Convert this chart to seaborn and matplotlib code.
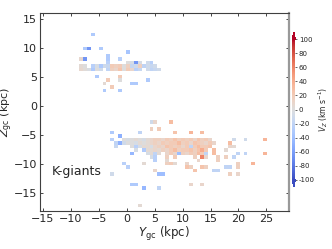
import numpy as np
import matplotlib
matplotlib.use("Agg")
import matplotlib.pyplot as plt
from matplotlib.ticker import FuncFormatter
import seaborn as sns

# ---- data: binned cells (Y_gc, Z_gc) with mean V_Z (km/s) ----
# upper (north) group
Y_north = [-6.05,
           -7.45, -6.75, -4.65,
           0.25,
           -3.25,
           -8.15, -7.45, -1.15, -3.25,
           -3.25, 1.65, 4.45, 0.25, 0.95, 3.75, 2.35,
           -8.15, -7.45, -6.05, -5.35, -4.65, -3.95, -3.25, -2.55, -1.85, -1.15, -0.45, 0.25, 0.95, 1.65, 2.35, 3.05, 3.75, 4.45, 5.15,
           -8.15, -7.45, -6.75, -6.05, -5.35, -4.65, -3.25, -2.55, -1.85, -1.15, -0.45, 0.25, 0.95, 1.65, 2.35, 3.75, 4.45, 5.15, 5.85,
           -5.35, -1.15,
           -3.25, -1.15, 3.75,
           -3.95, 0.95, 1.65,
           -2.55,
           -3.95, -1.15]
Z_north = [12.3,
           9.9, 9.9, 9.9,
           9.3,
           8.7,
           8.1, 8.1, 8.1, 8.1,
           7.5, 7.5, 7.5, 7.5, 7.5, 7.5, 7.5,
           6.9, 6.9, 6.9, 6.9, 6.9, 6.9, 6.9, 6.9, 6.9, 6.9, 6.9, 6.9, 6.9, 6.9, 6.9, 6.9, 6.9, 6.9, 6.9,
           6.3, 6.3, 6.3, 6.3, 6.3, 6.3, 6.3, 6.3, 6.3, 6.3, 6.3, 6.3, 6.3, 6.3, 6.3, 6.3, 6.3, 6.3, 6.3,
           5.1, 5.1,
           4.5, 4.5, 4.5,
           3.9, 3.9, 3.9,
           3.3,
           2.7, 2.7]
VZ_north = [-30,
            -30, -65, -30,
            -35,
            -30,
            8, -65, -25, -30,
            -25, -65, -25, 0, -5, -10, -5,
            5, 0, -25, -5, -30, -10, -15, 20, 15, 20, 0, 15, -15, -10, 15, -20, -10, -15, -10,
            8, 3, -3, -30, 0, -10, -20, 15, 10, 25, 0, 20, 10, -25, -15, -10, -20, -15, -10,
            -30, 20,
            20, 0, -30,
            5, -30, -30,
            20,
            -30, -30]

# lower (south) group
Y_south = [4.45, 5.15, 7.95,
           4.45, 5.85,
           -2.55, 2.35, 8.65, 11.45, 13.55,
           -1.15,
           -2.55, 19.45, 21.55, 24.75,
           -0.45, 0.25, 0.95, 1.65, 2.35, 3.05, 3.75, 4.45, 5.15, 5.85, 6.55, 7.25, 7.95, 8.65, 9.35, 10.05, 10.75, 11.45, 12.15, 12.85, 13.55, 14.25, 14.95,
           -1.85, -1.15, -0.45, 0.25, 0.95, 1.65, 2.35, 3.05, 3.75, 4.45, 5.15, 5.85, 6.55, 7.25, 7.95, 8.65, 9.35, 10.05, 10.75, 11.45, 12.15, 12.85, 13.55, 14.25, 14.95, 15.65, 18.45,
           -1.85, 0.95, 1.65, 2.35, 3.05, 3.75, 4.45, 5.15, 5.85, 6.55, 7.25, 7.95, 8.65, 9.35, 10.05, 10.75, 11.45, 12.15, 12.85, 13.55, 14.25, 14.95, 18.45, 19.15,
           1.65, 3.05, 3.75, 4.45, 5.15, 5.85, 6.55, 7.25, 7.95, 8.65, 9.35, 10.05, 10.75, 11.45, 12.15, 12.85, 13.55, 14.25, 15.65, 17.85,
           0.95, 3.75, 4.45, 5.15, 5.85, 7.25, 7.95, 8.65, 9.35, 10.05, 10.75, 11.45, 12.15, 12.85, 13.55, 14.25, 15.65, 19.85, 21.15, 24.75,
           4.45, 5.15, 7.25, 8.65, 12.15, 13.55, 14.25, 16.35, 17.85, 19.15,
           5.15, 7.25, 12.85, 16.35,
           -0.45, 3.05, 7.25, 7.95, 8.65, 10.75, 19.85, 22.45,
           0.25, 10.75, 11.45, 13.55, 14.25, 17.85, 18.55, 19.85,
           5.15, 12.15, 15.65, 16.35,
           -2.55, 5.85, 6.55, 18.45, 20.15,
           0.95, 1.65, 11.45, 13.55,
           3.05, 5.85,
           2.35]
Z_south = [-2.7, -2.7, -2.7,
           -3.9, -3.9,
           -4.5, -4.5, -4.5, -4.5, -4.5,
           -5.1,
           -5.7, -5.7, -5.7, -5.7,
           *([-5.7] * 23),
           *([-6.3] * 27),
           *([-6.9] * 24),
           *([-7.5] * 20),
           *([-8.1] * 20),
           *([-8.7] * 10),
           *([-9.3] * 4),
           *([-9.9] * 8),
           *([-10.5] * 8),
           *([-11.1] * 4),
           *([-11.7] * 5),
           *([-13.5] * 4),
           -14.1, -14.1,
           -17.1]
VZ_south = [-10, 10, 30,
            15, 20,
            -30, -20, 25, 35, 30,
            -50,
            -25, -10, -10, 35,
            0, -5, 0, 5, 0, -5, 5, 10, 15, 15, 10, 20, 15, 25, 15, 20, 15, 20, 10, 25, 15, 20, 10,
            -20, -50, -10, 0, 0, -5, 5, 0, 5, 10, 15, 10, 20, 15, 20, 20, 30, 15, 20, 10, 25, 20, 15, 10, 20, 10, 30,
            -15, 0, -25, -5, 5, 5, -5, 10, 15, 10, 25, 20, 15, 20, 10, 20, -20, 20, 30, 20, 20, 25, 10, 5,
            -5, -30, 5, 5, 10, 5, 15, 10, 20, 30, 15, 20, 20, 25, 15, 25, 40, 20, 30, 5,
            -45, -5, 5, -20, 5, 10, 20, 10, -40, 15, 10, 20, 15, 30, 20, -20, 30, -20, -20, 35,
            -5, -25, 15, 20, 15, 60, 10, 15, 15, -20,
            -25, 5, 10, 15,
            -25, 5, 15, 20, 5, 10, 15, 35,
            -25, 25, 15, 25, 15, -20, -20, 15,
            10, 25, -20, -20,
            -10, -40, -40, 15, 10,
            -30, -30, 10, 10,
            -45, -20,
            5]

label_text = "K-giants"
x_ticks = [-15, -10, -5, 0, 5, 10, 15, 20, 25]
y_ticks = [-15, -10, -5, 0, 5, 10, 15]
cbar_ticks = [-100, -80, -60, -40, -20, 0, 20, 40, 60, 80, 100]

# ---- build the binned grid ----
dx, dy = 0.7, 0.6
x0, x1 = -15.5, 29.0
y0, y1 = -18.0, 16.0
xedges = np.arange(x0, x1 + dx, dx)
yedges = np.arange(y0, y1 + dy, dy)
grid = np.full((len(yedges) - 1, len(xedges) - 1), np.nan)
Ys = np.array(Y_north + Y_south)
Zs = np.array(Z_north + Z_south)
Vs = np.array(VZ_north + VZ_south, dtype=float)
ix = np.floor((Ys - x0) / dx).astype(int)
iy = np.floor((Zs - y0) / dy).astype(int)
grid[iy, ix] = Vs

# ---- plot ----
sns.set_style("ticks")
plt.rcParams["font.family"] = ["DejaVu Sans"]

fig = plt.figure(figsize=(3.32, 2.49), dpi=100)
ax = fig.add_axes([0.120, 0.153, 0.750, 0.795])
mesh = ax.pcolormesh(xedges, yedges, np.ma.masked_invalid(grid),
                     cmap="coolwarm", vmin=-100, vmax=100,
                     edgecolors="face", linewidth=0.0)
ax.set_xlim(x0, x1)
ax.set_ylim(y0, y1)
ax.set_xticks(x_ticks)
ax.set_yticks(y_ticks)
ax.tick_params(direction="in", top=True, right=True, labelsize=8,
               length=2.5, width=0.6, pad=2)
for s in ["left", "bottom", "top"]:
    ax.spines[s].set_color("0.25")
    ax.spines[s].set_linewidth(0.8)
ax.spines["right"].set_color("0.6")
ax.spines["right"].set_linewidth(1.6)
ax.set_xlabel(r"$Y_{\rm gc}$ (kpc)", fontsize=8.5, labelpad=1)
ax.set_ylabel(r"$Z_{\rm gc}$ (kpc)", fontsize=8)
ax.yaxis.set_label_coords(-0.10, 0.5)
ax.text(0.048, 0.20, label_text, transform=ax.transAxes, fontsize=9,
        va="center", ha="left")

cax = fig.add_axes([0.880, 0.249, 0.010, 0.622])
cb = fig.colorbar(mesh, cax=cax, extend="both", ticks=cbar_ticks)
cb.outline.set_visible(False)
cb.ax.yaxis.set_major_formatter(FuncFormatter(lambda v, p: f"{v:.0f}"))
cb.ax.tick_params(labelsize=5, length=1.5, width=0.5, pad=1)
cb.set_label(r"$V_Z$ (km s$^{-1}$)", fontsize=5.5, labelpad=1)

fig.savefig("out.png", dpi=100)
